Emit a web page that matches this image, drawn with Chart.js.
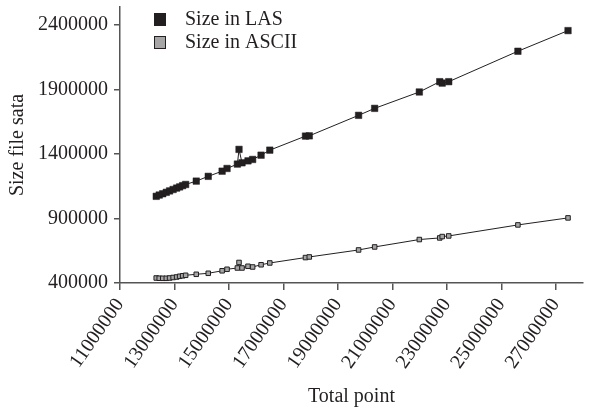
<!DOCTYPE html>
<html>
<head>
<meta charset="utf-8">
<script src="https://cdn.jsdelivr.net/npm/chart.js"></script>
<style>
  body { margin: 0; background: #fff; }
</style>
</head>
<body>
<canvas id="myChart" width="597" height="410"></canvas>
<script>
// values
const totalPoint = [12330000, 12440000, 12570000, 12700000, 12820000, 12950000, 13080000, 13190000, 13300000, 13410000,
  13800000, 14240000, 14750000, 14930000, 15310000, 15370000, 15480000, 15700000, 15870000, 16180000,
  16500000, 17810000, 17950000, 19760000, 20350000, 21990000, 22740000, 22830000, 23070000, 25610000, 27450000];
const sizeLas = [1072000, 1082000, 1092000, 1103000, 1114000, 1125000, 1136000, 1145000, 1155000, 1164000,
  1190000, 1227000, 1267000, 1288000, 1322000, 1436000, 1332000, 1347000, 1358000, 1391000,
  1430000, 1539000, 1541000, 1700000, 1754000, 1881000, 1961000, 1950000, 1961000, 2197000, 2357000];
const sizeAscii = [438800, 437000, 436500, 436500, 438800, 442700, 446600, 452000, 455900, 459800,
  467500, 475300, 494700, 506400, 516500, 559200, 516500, 529700, 524200, 541300,
  555300, 597200, 601900, 656200, 679500, 737000, 749400, 760200, 764900, 850300, 904700];
const seriesNames = ['Size in LAS', 'Size in ASCII'];
const xTicks = [11000000, 13000000, 15000000, 17000000, 19000000, 21000000, 23000000, 25000000, 27000000];
const yTicks = [400000, 900000, 1400000, 1900000, 2400000];

const ctx = document.getElementById('myChart');
const serif = "'Liberation Serif', 'Times New Roman', serif";
const ink = '#231f20';
const grey = '#a6a6a6';
const axisColor = '#555';

function pontos(valores) {
  return totalPoint.map((x, i) => ({ x: x, y: valores[i] }));
}

// legend drawn inside the plot, top left
const legenda = {
  id: 'legenda',
  afterDraw(chart) {
    const c = chart.ctx;
    const fills = [ink, grey];
    c.save();
    c.font = '20px ' + serif;
    c.textBaseline = 'middle';
    seriesNames.forEach((name, i) => {
      const y = 13 + i * 23;
      c.fillStyle = fills[i];
      c.fillRect(154, y, 12, 13);
      c.strokeStyle = ink;
      c.lineWidth = 1;
      c.strokeRect(154.5, y + 0.5, 11, 12);
      c.fillStyle = ink;
      c.fillText(name, 185, y + 7);
    });
    c.restore();
  }
};

const chart = new Chart(ctx, {
  type: 'scatter',
  data: {
    datasets: [{
      label: seriesNames[0],
      data: pontos(sizeLas),
      showLine: true,
      borderColor: ink,
      borderWidth: 1,
      pointStyle: 'rect',
      pointRadius: 4.6,
      pointBackgroundColor: ink,
      pointBorderColor: ink,
      pointBorderWidth: 0.5
    }, {
      label: seriesNames[1],
      data: pontos(sizeAscii),
      showLine: true,
      borderColor: ink,
      borderWidth: 1,
      pointStyle: 'rect',
      pointRadius: 3.2,
      pointBackgroundColor: grey,
      pointBorderColor: ink,
      pointBorderWidth: 1
    }]
  },
  options: {
    responsive: false,
    animation: false,
    events: [],
    layout: { padding: { top: 7, right: 14 } },
    plugins: {
      legend: { display: false },
      tooltip: { enabled: false }
    },
    scales: {
      x: {
        type: 'linear',
        min: 11000000,
        max: 28000000,
        afterBuildTicks: (scale) => { scale.ticks = xTicks.map(v => ({ value: v })); },
        afterFit: (scale) => { scale.height = 127; scale.paddingLeft = 0; scale.paddingRight = 0; },
        border: { display: true, color: axisColor, width: 1.5 },
        grid: { display: true, drawOnChartArea: false, drawTicks: true, tickLength: 7, color: axisColor, lineWidth: 1.5 },
        ticks: {
          autoSkip: false,
          minRotation: 55,
          maxRotation: 55,
          padding: 4,
          color: ink,
          font: { family: serif, size: 20 },
          callback: (v) => String(v)
        },
        title: {
          display: true,
          text: 'Total point',
          color: ink,
          font: { family: serif, size: 20 },
          padding: { top: 0, bottom: 1 }
        }
      },
      y: {
        min: 400000,
        max: 2540000,
        afterBuildTicks: (scale) => { scale.ticks = yTicks.map(v => ({ value: v })); },
        afterFit: (scale) => { scale.width = 120; scale.paddingTop = 0; scale.paddingBottom = 0; },
        border: { display: true, color: axisColor, width: 1.5 },
        grid: { display: true, drawOnChartArea: false, drawTicks: true, tickLength: 6, color: axisColor, lineWidth: 1.5 },
        ticks: {
          padding: 6,
          color: ink,
          font: { family: serif, size: 20 },
          callback: (v) => String(v)
        },
        title: {
          display: true,
          text: 'Size file sata',
          color: ink,
          font: { family: serif, size: 20 },
          padding: { top: 6, bottom: 0 }
        }
      }
    }
  },
  plugins: [legenda]
});
</script>
</body>
</html>
